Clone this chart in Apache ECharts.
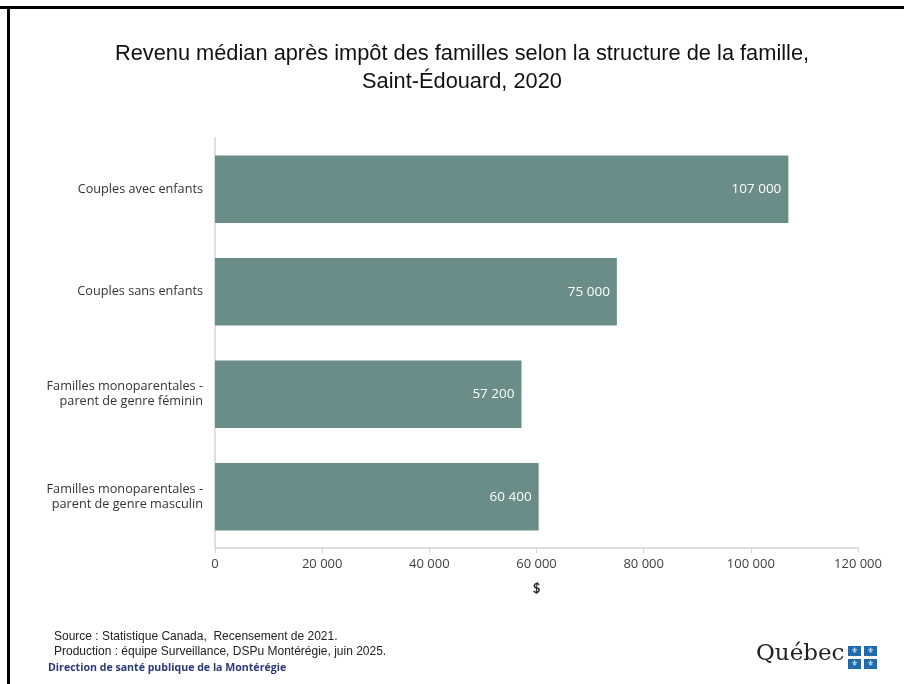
<!DOCTYPE html>
<html>
<head>
<meta charset="utf-8">
<script src="https://cdn.jsdelivr.net/npm/echarts@6/dist/echarts.min.js"></script>
<style>
html,body{margin:0;padding:0;background:#fff;}
#chart{width:904px;height:684px;}
</style>
</head>
<body>
<div id="chart"></div>
<script>
const titleLines = ['Revenu médian après impôt des familles selon la structure de la famille,', 'Saint-Édouard, 2020'];
const categories = [
  'Couples avec enfants',
  'Couples sans enfants',
  'Familles monoparentales -\nparent de genre féminin',
  'Familles monoparentales -\nparent de genre masculin'
];
const values = [107000, 75000, 57200, 60400];
const axisMin = 0, axisMax = 120000, axisStep = 20000;
const axisName = '$';
const footerLines = ['Source : Statistique Canada,  Recensement de 2021.', 'Production : équipe Surveillance, DSPu Montérégie, juin 2025.'];
const footerOrg = 'Direction de santé publique de la Montérégie';
const logoText = 'Québec';

const fmt = v => String(v).replace(/\B(?=(\d{3})+(?!\d))/g, ' ');
const narrow = '"Liberation Sans Narrow", "Arial Narrow", "Liberation Sans", sans-serif';

const chart = echarts.init(document.getElementById('chart'), null, {renderer: 'canvas'});
const flagBlue = '#1e6bb0';
const flagSq = [[848,646],[864,646],[848,659],[864,659]];
const graphics = [
  {type:'rect', shape:{x:0,y:6,width:904,height:3}, style:{fill:'#000'}},
  {type:'rect', shape:{x:7,y:6,width:3,height:678}, style:{fill:'#000'}},
  {type:'text', x:462, y:40, style:{text:titleLines.join('\n'), font:'21.8px ' + narrow, fill:'#111', textAlign:'center', textVerticalAlign:'top', lineHeight:28}},
  {type:'text', left:54, top:629, style:{text:footerLines.join('\n'), font:'12px ' + narrow, fill:'#222', lineHeight:15}},
  {type:'text', left:48, top:662, style:{text:footerOrg, font:'bold 10.6px "Liberation Sans Narrow", "Open Sans", sans-serif', fill:'#2a3a78'}},
  {type:'text', left:756, top:643, style:{text:logoText, font:'23px "DejaVu Serif", "Liberation Serif", serif', fill:'#222'}}
];
flagSq.forEach(p => {
  graphics.push({type:'rect', shape:{x:p[0], y:p[1], width:13, height:10}, style:{fill:flagBlue}});
  graphics.push({type:'text', x:p[0]+6.5, y:p[1]+5, style:{text:'⚜', font:'8px "DejaVu Sans"', fill:'#fff', textAlign:'center', textVerticalAlign:'middle'}});
});

chart.setOption({
  animation: false,
  backgroundColor: '#fff',
  grid: {left: 215, right: 46, top: 138, bottom: 136, containLabel: false},
  xAxis: {
    type: 'value', min: axisMin, max: axisMax, interval: axisStep,
    name: axisName, nameLocation: 'middle', nameGap: 34,
    nameTextStyle: {fontSize: 13, fontWeight: 'bold', color: '#222', fontFamily: 'Lato, sans-serif'},
    axisLine: {show: true, lineStyle: {color: '#d4d4d4', width: 1.5}},
    axisTick: {show: true, length: 5, lineStyle: {color: '#d4d4d4'}},
    splitLine: {show: false},
    axisLabel: {formatter: fmt, fontSize: 13, color: '#404040', margin: 10, fontFamily: '"Open Sans", sans-serif'}
  },
  yAxis: {
    type: 'category', data: categories, inverse: true,
    axisLine: {show: true, lineStyle: {color: '#d4d4d4', width: 1.5}},
    axisTick: {show: false},
    axisLabel: {fontSize: 12.7, color: '#333', margin: 12, lineHeight: 15, align: 'right', fontFamily: '"Open Sans", sans-serif'}
  },
  series: [{
    type: 'bar', data: values, barCategoryGap: '34%',
    itemStyle: {color: '#6a8d87'},
    label: {show: true, position: 'insideRight', distance: 7, formatter: p => fmt(p.value), color: '#fff', fontSize: 13.5, fontFamily: '"Open Sans", sans-serif'}
  }],
  graphic: graphics
});
</script>
</body>
</html>
